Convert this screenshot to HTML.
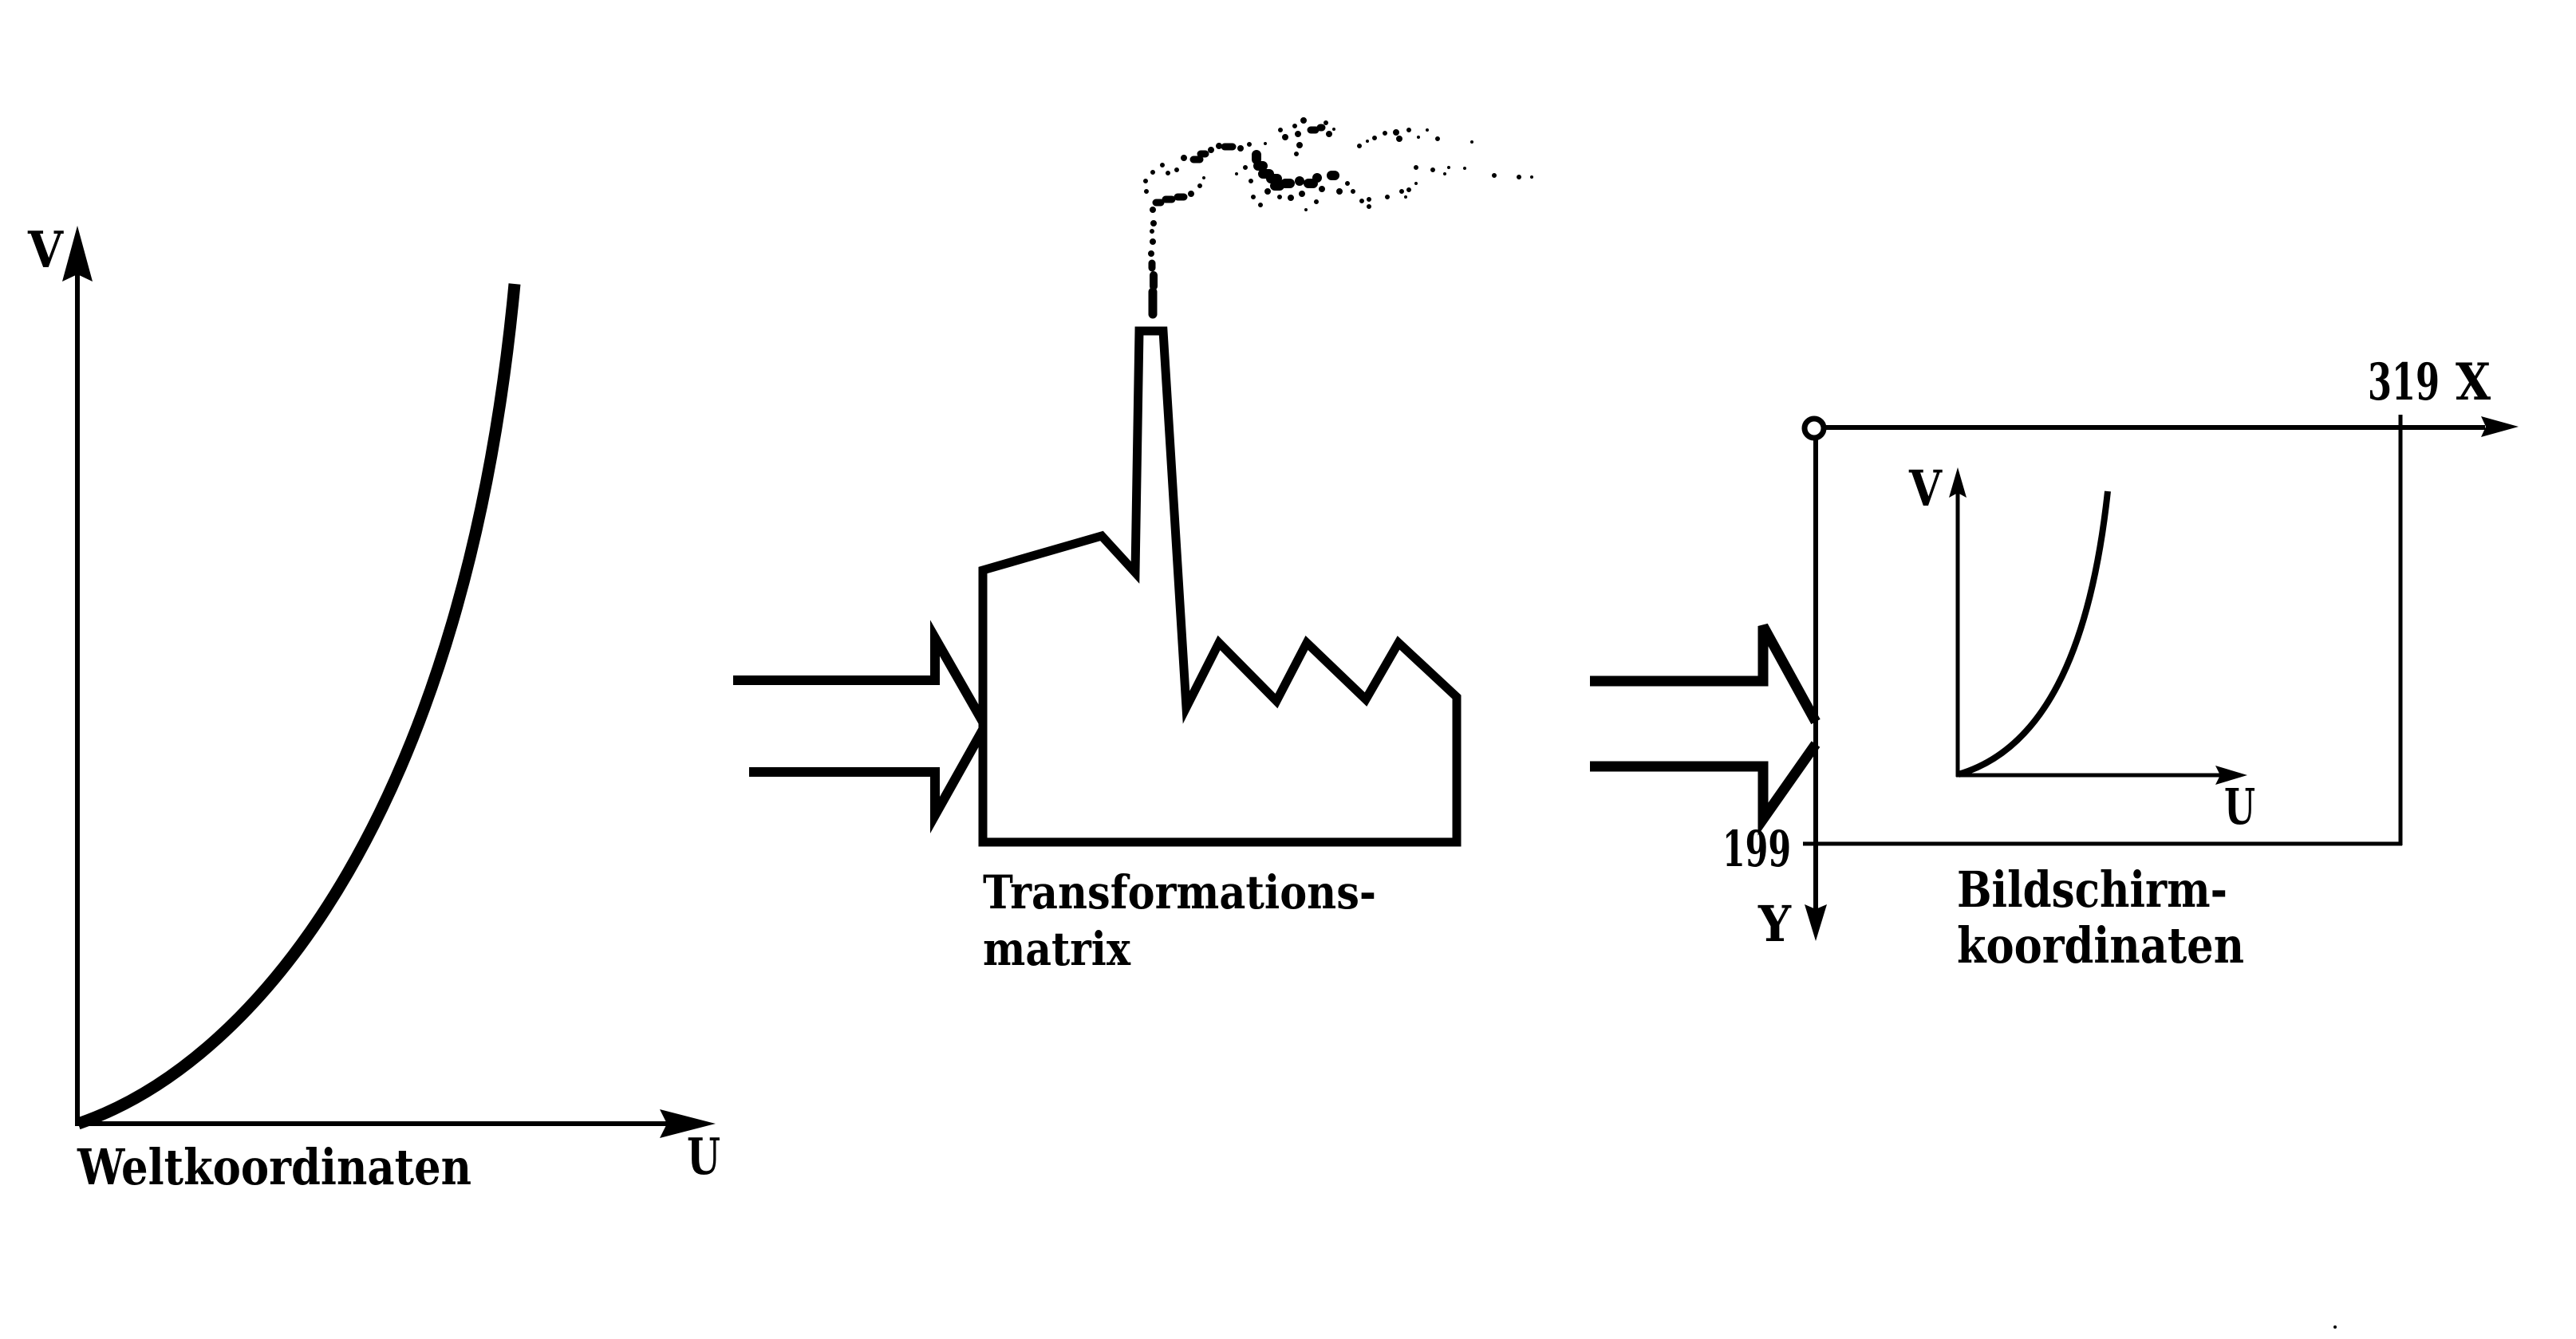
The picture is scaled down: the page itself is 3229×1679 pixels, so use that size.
<!DOCTYPE html>
<html>
<head>
<meta charset="utf-8">
<style>
  html, body { margin:0; padding:0; background:#fff; }
  body { width:3229px; height:1679px; overflow:hidden; }
  svg { display:block; }
  text { font-family: "DejaVu Serif", "Liberation Serif", serif; font-weight:bold; fill:#000; }
</style>
</head>
<body>
<svg width="3229" height="1679" viewBox="0 0 3229 1679" xmlns="http://www.w3.org/2000/svg">
  <rect width="3229" height="1679" fill="#fff"/>

  <!-- LEFT: Weltkoordinaten -->
  <g stroke="#000" fill="none">
    <line x1="97" y1="1412" x2="97" y2="340" stroke-width="6"/>
    <line x1="94" y1="1409" x2="840" y2="1409" stroke-width="6"/>
    <path d="M98,1409 C330,1330 585,1000 645,356" stroke-width="15"/>
  </g>
  <polygon points="97,283 116,353 97,344 78,353" fill="#000"/>
  <polygon points="897,1409 827,1391 836,1409 827,1427" fill="#000"/>
  <text x="35" y="335" font-size="63" textLength="44" lengthAdjust="spacingAndGlyphs">V</text>
  <text x="861" y="1472" font-size="63" textLength="42" lengthAdjust="spacingAndGlyphs">U</text>
  <text x="97" y="1485" font-size="62" textLength="494" lengthAdjust="spacingAndGlyphs">Weltkoordinaten</text>

  <!-- MIDDLE: Factory -->
  <g stroke="#000" fill="none" stroke-width="11" stroke-miterlimit="10">
    <polygon points="1232,1056 1232,715 1381,672 1423,718 1428,415 1458,415 1487,887 1528,806 1600,879 1638,806 1712,877 1753,806 1826,874 1826,1056"/>
    <polyline points="919,853 1172,853 1172,800 1232,905" stroke-width="12"/>
    <polyline points="939,968 1172,968 1172,1022 1232,915" stroke-width="12"/>
  </g>
  <text x="1232" y="1139" font-size="58" textLength="493" lengthAdjust="spacingAndGlyphs">Transformations-</text>
  <text x="1232" y="1210" font-size="58" textLength="185" lengthAdjust="spacingAndGlyphs">matrix</text>

  <!-- smoke (round-capped zero-length strokes act as dots) -->
  <g stroke="#000" fill="none" stroke-linecap="round">
    <path stroke-width="11" d="M1445 366V394"/>
    <path stroke-width="10" d="M1446 345V359"/>
    <path stroke-width="9" d="M1444 330V336M1449 254h6M1461 250h8M1476 247h8M1496 200h8M1505 193h6M1535 184h10M1643 163h6M1655 160h2"/>
    <path stroke-width="12" d="M1575 194v6M1577 208h6M1583 218h8M1593 224h8M1598 233h6M1611 230h6M1629 227h0M1640 230h6M1651 223h0M1669 220h4"/>
    <path stroke-width="8" d="M1443 318h0M1445 303h0M1446 280h0M1445 263h0M1493 243h0M1484 198h0M1518 188h0M1528 183h0M1555 186h0M1611 172h0M1634 151h0M1627 168h0M1629 182h0M1666 168h0M1657 237h0M1679 240h0M1589 240h0M1618 248h0M1632 243h0M1750 166h0M1754 174h0"/>
    <path stroke-width="6" d="M1444 290h0M1436 227h0M1437 240h0M1445 216h0M1457 207h0M1464 217h0M1475 213h0M1504 233h0M1566 181h0M1605 163h0M1623 158h0M1625 193h0M1662 154h0M1604 247h0M1568 227h0M1561 210h0M1571 247h0M1580 257h0M1650 253h0M1689 230h0M1696 240h0M1707 252h0M1716 250h0M1716 259h0M1739 247h0M1757 240h0M1766 238h0M1775 210h0M1796 213h0M1873 220h0M1904 222h0M1704 183h0M1723 173h0M1736 167h0M1766 163h0M1802 174h0"/>
    <path stroke-width="4" d="M1509 223h0M1586 180h0M1672 162h0M1550 218h0M1637 263h0M1762 247h0M1775 230h0M1811 218h0M1816 210h0M1836 211h0M1714 177h0M1778 172h0M1789 163h0M1845 178h0M1920 222h0"/>
  </g>

  <!-- RIGHT: Bildschirmkoordinaten -->
  <g stroke="#000" fill="none">
    <polyline points="1993,854 2210,854 2210,785 2276,905" stroke-width="13"/>
    <polyline points="1993,961 2210,961 2210,1027 2276,933" stroke-width="13"/>
    <line x1="2287" y1="536" x2="3115" y2="536" stroke-width="6"/>
    <line x1="2276" y1="550" x2="2276" y2="1140" stroke-width="6"/>
    <line x1="3009" y1="520" x2="3009" y2="1060" stroke-width="5"/>
    <line x1="2260" y1="1058" x2="3011" y2="1058" stroke-width="5"/>
    <circle cx="2274" cy="537" r="12" stroke-width="7" fill="#fff"/>
    <line x1="2454" y1="974" x2="2454" y2="610" stroke-width="5"/>
    <line x1="2452" y1="972" x2="2790" y2="972" stroke-width="5"/>
    <path d="M2455,971 C2560,940 2620,820 2642,616" stroke-width="8"/>
  </g>
  <polygon points="3157,535 3110,522 3116,535 3110,548" fill="#000"/>
  <polygon points="2276,1180 2262,1134 2276,1140 2290,1134" fill="#000"/>
  <polygon points="2454,586 2465,624 2454,618 2443,624" fill="#000"/>
  <polygon points="2817,972 2777,960 2783,972 2777,984" fill="#000"/>

  <text x="2968" y="501" font-size="64" textLength="90" lengthAdjust="spacingAndGlyphs">319</text>
  <text x="3078" y="501" font-size="64" textLength="44" lengthAdjust="spacingAndGlyphs">X</text>
  <text x="2159" y="1086" font-size="62" textLength="86" lengthAdjust="spacingAndGlyphs">199</text>
  <text x="2204" y="1180" font-size="62" textLength="41" lengthAdjust="spacingAndGlyphs">Y</text>
  <text x="2393" y="634" font-size="62" textLength="41" lengthAdjust="spacingAndGlyphs">V</text>
  <text x="2788" y="1033" font-size="62" textLength="39" lengthAdjust="spacingAndGlyphs">U</text>
  <text x="2453" y="1137" font-size="62" textLength="339" lengthAdjust="spacingAndGlyphs">Bildschirm-</text>
  <text x="2453" y="1207" font-size="62" textLength="360" lengthAdjust="spacingAndGlyphs">koordinaten</text>

  <path d="M2927 1664h0" stroke="#000" stroke-width="4" stroke-linecap="round"/>
</svg>
</body>
</html>
